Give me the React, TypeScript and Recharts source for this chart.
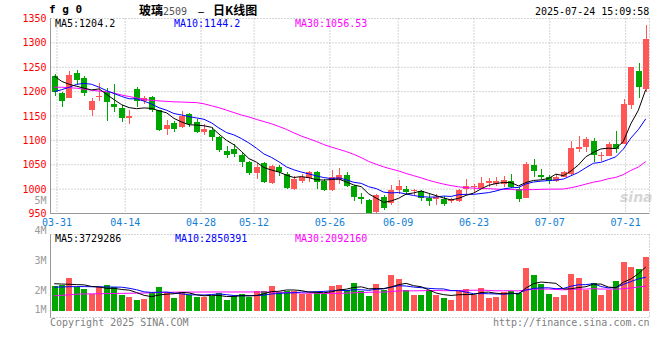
import React from 'react';
import { ComposedChart, Bar, Line, XAxis, YAxis, CartesianGrid } from 'recharts';

const MONO = '"DejaVu Sans Mono", "Liberation Mono", monospace';
const CJK = '"Noto Sans CJK SC", sans-serif';
const RED = '#ff5656';
const GREEN = '#00a600';
const GRID = '#a8a8a8';
const BORDER = '#999999';
const BLUE_TXT = '#1280d8';

const dates = ['03-28','03-31','04-01','04-02','04-03','04-07','04-08','04-09','04-10','04-11','04-14','04-15','04-16','04-17','04-18','04-21','04-22','04-23','04-24','04-25','04-28','04-29','04-30','05-06','05-07','05-08','05-09','05-12','05-13','05-14','05-15','05-16','05-19','05-20','05-21','05-22','05-23','05-26','05-27','05-28','05-29','05-30','06-03','06-04','06-05','06-06','06-09','06-10','06-11','06-12','06-13','06-16','06-17','06-18','06-19','06-20','06-23','06-24','06-25','06-26','06-27','06-30','07-01','07-02','07-03','07-04','07-07','07-08','07-09','07-10','07-11','07-14','07-15','07-16','07-17','07-18','07-21','07-22','07-23','07-24'];
const tickDates = ['03-31','04-14','04-28','05-12','05-26','06-09','06-23','07-07','07-21'];

const open = [1233,1197,1187,1239,1228,1162,1189,1200,1174,1166,1146,1206,1180,1189,1162,1123,1135,1128,1155,1137,1117,1122,1107,1078,1083,1071,1055,1033,1054,1013,1045,1032,1000,1017,1023,1035,1016,998,1018,1030,1006,983,977,953,984,971,998,1000,996,996,982,980,979,975,976,1001,1004,1002,1013,1011,1010,1016,1001,982,1049,1028,1024,1017,1025,1032,1082,1086,1098,1069,1067,1092,1093,1172,1243,1205];
const high = [1237,1200,1243,1244,1233,1186,1218,1208,1215,1172,1162,1210,1192,1192,1163,1141,1139,1160,1157,1143,1133,1127,1108,1088,1092,1074,1058,1053,1056,1050,1050,1035,1027,1031,1038,1037,1020,1040,1044,1036,1008,993,979,990,987,1009,1018,1007,1001,998,990,989,985,982,1001,1020,1011,1025,1022,1025,1027,1032,1005,1056,1061,1042,1028,1032,1037,1099,1108,1107,1105,1076,1097,1119,1185,1251,1258,1336];
const low = [1191,1168,1186,1214,1192,1151,1180,1140,1158,1138,1133,1168,1174,1158,1119,1112,1117,1125,1127,1115,1112,1099,1076,1063,1065,1046,1030,1020,1013,1010,1027,1000,998,1013,1015,1001,996,996,1010,1004,976,970,950,951,957,968,990,987,987,976,966,967,966,972,974,991,994,1000,1005,1006,1005,1003,974,982,1025,1020,1010,1015,1024,1030,1076,1076,1056,1058,1067,1074,1093,1164,1186,1199];
const close = [1199,1181,1235,1223,1197,1181,1192,1179,1168,1146,1151,1181,1187,1163,1121,1131,1123,1151,1134,1118,1124,1107,1081,1071,1072,1056,1033,1045,1015,1047,1035,1002,1020,1025,1035,1015,998,1025,1030,1006,984,980,951,987,962,999,1007,994,999,982,975,983,970,979,998,1006,1006,1013,1016,1016,1018,1004,979,1051,1037,1024,1017,1025,1035,1084,1086,1102,1069,1071,1092,1082,1174,1250,1209,1307];

const ma5 = [1232,1221,1215,1211,1207,1203.4,1205.6,1194.4,1183.4,1173.2,1167.2,1165,1166.6,1165.6,1160.6,1156.6,1145,1137.8,1132,1131.4,1130,1126.8,1112.8,1100.2,1091,1077.4,1062.6,1055.4,1044.2,1039.2,1035,1028.8,1023.8,1025.8,1023.4,1019.4,1018.6,1019.6,1020.6,1014.8,1008.6,1005,990.2,981.6,972.8,975.8,981.2,989.8,992.2,996.2,991.4,986.6,981.8,977.8,981,987.2,991.8,1000.4,1007.8,1011.4,1013.8,1013.4,1006.6,1013.6,1017.8,1019,1021.6,1030.8,1027.6,1037,1049.4,1066.4,1075.2,1082.4,1084,1083.2,1097.6,1133.8,1161.4,1204.4];
const ma10 = [1200,1204,1209,1215,1217,1215,1209,1202,1196,1190.1,1185.3,1185.3,1180.5,1174.5,1166.9,1161.9,1155,1152.2,1148.8,1146,1143.3,1135.9,1125.3,1116.1,1111.2,1103.7,1094.7,1084.1,1072.2,1065.1,1056.2,1045.7,1039.6,1035,1031.3,1027.2,1023.7,1021.7,1023.2,1019.1,1014,1011.8,1004.9,1001.1,993.8,992.2,993.1,990,986.9,984.5,983.6,983.9,985.8,985,988.6,989.3,989.2,991.1,992.8,996.2,1000.5,1002.6,1003.5,1010.7,1014.6,1016.4,1017.5,1018.7,1020.6,1027.4,1034.2,1044,1053,1055,1060.5,1066.3,1082,1104.5,1121.9,1144.2];
const ma30 = [1209,1209,1208,1207,1205,1203,1201,1200,1197,1193,1190,1187,1184,1182,1181,1180,1179,1178.6,1178,1177.5,1175,1171,1167,1162,1157,1152,1148,1143,1138.6,1134.1,1128.6,1122.6,1115.4,1108.8,1103.4,1097.9,1091.4,1086.3,1081.7,1077,1071.4,1064.7,1056.8,1050.9,1045.6,1041.2,1037.3,1032.1,1027.6,1023.1,1018.1,1014,1010.3,1007.2,1004.7,1003,1002.1,1001,1001,1000,999.4,999.5,998.1,999,999.1,999.4,1000,1000,1000.2,1002.8,1006.2,1010.3,1014.2,1017,1021.3,1024.1,1029.7,1038.2,1045.2,1056.5];

const volumeM = [2.14,2.20,2.80,2.01,1.86,1.43,2.01,2.20,2.01,1.35,1.20,0.92,1.00,1.49,2.03,1.58,1.09,1.58,1.29,1.20,1.15,1.26,1.54,0.86,1.26,1.43,1.15,1.69,1.69,2.12,1.60,1.69,1.69,1.43,1.43,1.60,1.43,2.12,2.20,1.78,2.38,1.69,1.26,2.29,1.78,3.06,2.72,1.78,1.29,1.35,1.78,1.29,1.09,0.92,1.69,1.86,1.29,1.95,1.09,1.20,1.60,1.69,1.49,3.66,3.06,2.29,1.43,1.20,1.29,3.09,2.83,1.78,2.32,1.35,1.78,2.55,4.12,3.69,3.60,4.63];
const vma5 = [2.30,2.27,2.25,2.22,2.20,2.06,2.02,1.90,1.90,1.80,1.75,1.54,1.30,1.19,1.33,1.40,1.44,1.55,1.51,1.35,1.26,1.30,1.29,1.20,1.21,1.27,1.25,1.28,1.44,1.62,1.65,1.76,1.76,1.71,1.57,1.57,1.52,1.60,1.76,1.83,1.98,2.03,1.86,1.88,1.88,2.02,2.22,2.33,2.13,2.04,1.78,1.50,1.36,1.29,1.35,1.37,1.37,1.54,1.58,1.48,1.43,1.51,1.41,1.93,2.30,2.44,2.39,2.33,1.85,1.86,1.97,2.04,2.26,2.27,2.01,1.96,2.42,2.70,3.15,3.73];
const vma10 = [2.00,2.02,2.04,2.05,2.05,2.04,2.03,2.02,2.01,2.00,1.91,1.78,1.60,1.55,1.57,1.58,1.49,1.43,1.35,1.34,1.33,1.37,1.42,1.36,1.28,1.27,1.28,1.29,1.32,1.42,1.46,1.51,1.52,1.58,1.60,1.61,1.64,1.68,1.74,1.70,1.78,1.78,1.73,1.82,1.86,2.00,2.13,2.10,2.01,1.96,1.90,1.86,1.85,1.71,1.70,1.58,1.44,1.45,1.44,1.42,1.40,1.44,1.48,1.76,1.89,1.94,1.95,1.87,1.89,2.08,2.21,2.22,2.30,2.06,1.94,1.97,2.23,2.48,2.71,2.85];
const vma30 = [1.26,1.30,1.35,1.40,1.42,1.43,1.44,1.45,1.46,1.47,1.48,1.49,1.50,1.52,1.54,1.56,1.57,1.58,1.58,1.58,1.59,1.59,1.59,1.59,1.59,1.59,1.59,1.59,1.59,1.585,1.567,1.550,1.513,1.494,1.480,1.486,1.467,1.464,1.470,1.484,1.523,1.549,1.558,1.585,1.577,1.626,1.680,1.687,1.687,1.692,1.713,1.714,1.699,1.701,1.715,1.729,1.734,1.743,1.723,1.692,1.692,1.692,1.685,1.759,1.813,1.836,1.836,1.805,1.775,1.819,1.834,1.837,1.872,1.841,1.841,1.824,1.871,1.935,2.012,2.092];

const priceTicks = [950, 1000, 1050, 1100, 1150, 1200, 1250, 1300, 1350];
const volLabelTicks = [1, 2, 3, 4, 5];
const volGridTicks = [-0.6, 1.18, 2.96, 4.74, 6.52];

const N = dates.length;
const tickIdx = tickDates.map((d) => dates.indexOf(d));
const xTicks = tickIdx.map((j) => (j * N) / (N - 1) - 0.65);
const fmtX = (v: number) => dates[Math.round(((v + 0.65) * (N - 1)) / N)] || '';

const rows = dates.map((d, i) => ({
  i,
  date: d,
  open: open[i],
  high: high[i],
  low: low[i],
  close: close[i],
  range: [low[i], high[i]],
  ma5: ma5[i],
  ma10: ma10[i],
  ma30: ma30[i],
  vol: volumeM[i],
  vma5: vma5[i],
  vma10: vma10[i],
  vma30: vma30[i],
}));

const Candle = (props: any) => {
  const { x, y, width, height, payload } = props;
  if (x == null || y == null || !payload) return null;
  const o = payload.open, c = payload.close, h = payload.high, l = payload.low;
  const col = c >= o ? RED : GREEN;
  const yTop = Math.min(y, y + height);
  const hh = Math.abs(height);
  const span = h - l;
  const py = (p: number) => (span > 0 ? yTop + ((h - p) / span) * hh : yTop);
  const left = Math.round(x);
  const bw = Math.max(1, Math.round(width));
  const top = Math.round(py(Math.max(o, c)));
  const bot = Math.round(py(Math.min(o, c)));
  const wx = left + Math.floor(bw / 2);
  const wTop = Math.round(yTop);
  const wBot = Math.round(yTop + hh);
  return (
    <g shapeRendering="crispEdges">
      <rect x={wx} y={wTop} width={1} height={Math.max(1, wBot - wTop)} fill={col} />
      <rect x={left} y={top} width={bw} height={Math.max(1, bot - top)} fill={col} />
    </g>
  );
};

const VolBar = (props: any) => {
  const { x, y, width, height, payload } = props;
  if (x == null || y == null || !payload) return null;
  const col = payload.close >= payload.open ? RED : GREEN;
  const t = Math.round(Math.min(y, y + height));
  const b = Math.round(Math.max(y, y + height));
  return <rect x={Math.round(x)} y={t} width={Math.round(width)} height={Math.max(1, b - t)} fill={col} shapeRendering="crispEdges" />;
};

const VolTick = (props: any) => {
  const { x, y, payload } = props;
  const yy = Math.min(y, 119);
  return (
    <text x={x} y={yy} dy="0.355em" textAnchor="end" fill="#9a9a9a" fontSize={10} fontFamily={MONO}>
      {payload.value}M
    </text>
  );
};

const txt = (left: number, top: number, color: string, s: string, extra: React.CSSProperties = {}) => (
  <div style={{ position: 'absolute', left, top, fontFamily: MONO, fontSize: 10, lineHeight: '10px', color, whiteSpace: 'pre', ...extra }}>{s}</div>
);

export default function App() {
  return (
    <div style={{ position: 'absolute', left: 0, top: 0, width: 660, height: 360, background: '#fff', overflow: 'hidden' }}>
      <div style={{ position: 'absolute', left: 620, top: 190, fontFamily: '"DejaVu Sans", sans-serif', fontStyle: 'italic', fontWeight: 'bold', fontSize: 14, lineHeight: '14px', color: '#d6d6d6' }}>sina</div>

      <div style={{ position: 'absolute', left: 0, top: 0 }}>
        <ComposedChart width={660} height={235} data={rows} margin={{ top: 18.5, right: 10.5, bottom: 0, left: 0.5 }}>
          <CartesianGrid stroke={GRID} strokeDasharray="1 2" />
          <XAxis dataKey="i" type="number" domain={[-0.5, 79.5]} allowDataOverflow ticks={xTicks} interval={0} tickFormatter={fmtX}
            tick={{ fill: BLUE_TXT, fontSize: 10, fontFamily: MONO }} tickLine={false} tickSize={0} tickMargin={5} axisLine={{ stroke: BORDER }} height={21.5} />
          <XAxis xAxisId="top" orientation="top" dataKey="i" type="number" domain={[-0.5, 79.5]} allowDataOverflow tick={false} tickLine={false} axisLine={{ stroke: BORDER }} height={0} />
          <YAxis domain={[950, 1350]} allowDataOverflow ticks={priceTicks} interval={0} width={50}
            tick={{ fill: '#ff0000', fontSize: 10, fontFamily: MONO }} tickLine={false} tickSize={0} tickMargin={4} axisLine={{ stroke: BORDER }} />
          <YAxis yAxisId="right" orientation="right" domain={[950, 1350]} allowDataOverflow width={0} tick={false} tickLine={false} axisLine={{ stroke: BORDER }} />
          <Bar dataKey="range" barSize={6} isAnimationActive={false} shape={(p: any) => <Candle {...p} />} />
          <Line dataKey="ma30" stroke="#ff00ff" strokeWidth={1} dot={false} activeDot={false} isAnimationActive={false} />
          <Line dataKey="ma10" stroke="#0000ff" strokeWidth={1} dot={false} activeDot={false} isAnimationActive={false} />
          <Line dataKey="ma5" stroke="#000000" strokeWidth={1} dot={false} activeDot={false} isAnimationActive={false} />
        </ComposedChart>
      </div>

      <div style={{ position: 'absolute', left: 0, top: 190 }}>
        <ComposedChart width={660} height={130} data={rows} margin={{ top: 44.5, right: 10.5, bottom: 2.5, left: 0.5 }}>
          <CartesianGrid stroke={GRID} strokeDasharray="1 2" yAxisId="vol" />
          <XAxis dataKey="i" type="number" domain={[-0.5, 79.5]} allowDataOverflow ticks={xTicks} interval={0} tick={false} tickLine={false} axisLine={{ stroke: BORDER }} height={0} />
          <XAxis xAxisId="top" orientation="top" dataKey="i" type="number" domain={[-0.5, 79.5]} allowDataOverflow tick={false} tickLine={false} axisLine={{ stroke: BORDER }} height={0} />
          <YAxis yAxisId="lab" domain={[1.1, 3.8667]} allowDataOverflow ticks={volLabelTicks} interval={0} width={50}
            tick={(p: any) => <VolTick {...p} />} tickLine={false} tickSize={0} tickMargin={4} axisLine={{ stroke: BORDER }} />
          <YAxis yAxisId="vol" orientation="right" domain={[-0.6, 6.52]} allowDataOverflow ticks={volGridTicks} interval={0} width={0} tick={false} tickLine={false} axisLine={{ stroke: BORDER }} />
          <Bar yAxisId="vol" dataKey="vol" barSize={6} isAnimationActive={false} shape={(p: any) => <VolBar {...p} />} />
          <Line yAxisId="vol" dataKey="vma30" stroke="#ff00ff" strokeWidth={1} dot={false} activeDot={false} isAnimationActive={false} />
          <Line yAxisId="vol" dataKey="vma10" stroke="#0000ff" strokeWidth={1} dot={false} activeDot={false} isAnimationActive={false} />
          <Line yAxisId="vol" dataKey="vma5" stroke="#000000" strokeWidth={1} dot={false} activeDot={false} isAnimationActive={false} />
        </ComposedChart>
      </div>

      <div style={{ position: 'absolute', left: 49, top: 4, fontFamily: MONO, fontWeight: 'bold', fontSize: 11, lineHeight: '11px', color: '#000', whiteSpace: 'pre' }}>f g 0</div>
      <div style={{ position: 'absolute', left: 139, top: 4, fontFamily: CJK, fontSize: 12, lineHeight: '12px', color: '#000', whiteSpace: 'pre', fontWeight: 'bold' }}>
        玻璃<span style={{ fontFamily: MONO, fontSize: 10, fontWeight: 'normal', color: '#555' }}>2509</span>
        <span style={{ fontSize: 8, marginLeft: 10, marginRight: 8 }}>－</span>日K线图
      </div>
      {txt(535, 7, '#000', '2025-07-24 15:09:58')}

      {txt(55, 19, '#000', 'MA5:1204.2')}
      {txt(174, 19, '#0000ff', 'MA10:1144.2')}
      {txt(295, 19, '#ff00ff', 'MA30:1056.53')}

      {txt(55, 233.5, '#000', 'MA5:3729286')}
      {txt(175, 233.5, '#0000ff', 'MA10:2850391')}
      {txt(295, 233.5, '#ff00ff', 'MA30:2092160')}

      {txt(50, 318, '#808080', 'Copyright 2025 SINA.COM')}
      {txt(493, 318, '#808080', 'http://finance.sina.com.cn')}
    </div>
  );
}
